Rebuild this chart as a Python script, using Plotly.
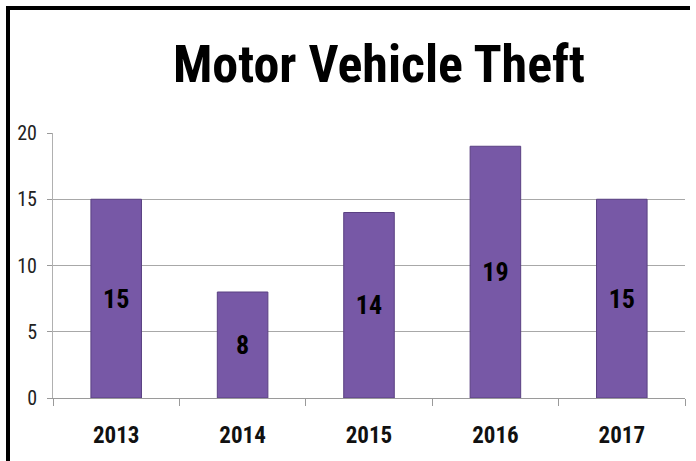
import plotly.graph_objects as go

years = ["2013", "2014", "2015", "2016", "2017"]
thefts = [15, 8, 14, 19, 15]
y_ticks = [0, 5, 10, 15, 20]
title_text = "Motor Vehicle Theft"

W, H = 696, 461
L, R, T, B = 53, 11, 133, 63
pw, ph = W - L - R, H - T - B

def px_x(x):
    return (x - L) / pw

def px_y(y):
    return (H - B - y) / ph

FONT = "Roboto Condensed, Liberation Sans Narrow, Arial Narrow, Lato, sans-serif"

fig = go.Figure()
fig.add_trace(go.Bar(
    x=years, y=thefts,
    text=[str(v) for v in thefts],
    textposition="inside", insidetextanchor="middle",
    textfont=dict(family=FONT, size=26, color="#000000", weight="bold"),
    marker=dict(color="#7758A6", line=dict(color="#5A4082", width=1)),
    width=0.4,
))

fig.update_layout(
    width=W, height=H,
    margin=dict(l=L, r=R, t=T, b=B),
    paper_bgcolor="white", plot_bgcolor="white",
    showlegend=False,
    title=dict(text=title_text, x=379 / W, xanchor="center", xref="container",
               y=1 - 64 / H, yanchor="middle", yref="container",
               font=dict(family=FONT, size=52, color="#000000", weight="bold")),
    xaxis=dict(type="category", tickson="boundaries", ticks="outside", ticklen=7,
               tickcolor="#9A9A9A", showline=True, linecolor="#9A9A9A", linewidth=1,
               showgrid=False,
               tickfont=dict(family=FONT, size=23, color="#111111", weight="bold"),
               ticklabelstandoff=16),
    yaxis=dict(range=[0, 20], tickvals=y_ticks, ticks="outside", ticklen=5,
               tickcolor="#9A9A9A", showline=True, linecolor="#B0B0B0", linewidth=1,
               showgrid=True, gridcolor="#A8A8A8", gridwidth=1, zeroline=False,
               tickfont=dict(family=FONT, size=20, color="#222222"),
               ticklabelstandoff=6),
    shapes=[
        dict(type="line", xref="paper", yref="paper",
             x0=px_x(8), x1=px_x(690), y0=px_y(8), y1=px_y(8),
             line=dict(color="black", width=4)),
        dict(type="line", xref="paper", yref="paper",
             x0=px_x(8), x1=px_x(8), y0=px_y(6), y1=px_y(470),
             line=dict(color="black", width=4)),
    ],
)

fig.write_html(
    "out.html",
    config={"displayModeBar": False},
    post_script="document.body.style.margin='0';document.body.style.overflow='hidden';",
)
